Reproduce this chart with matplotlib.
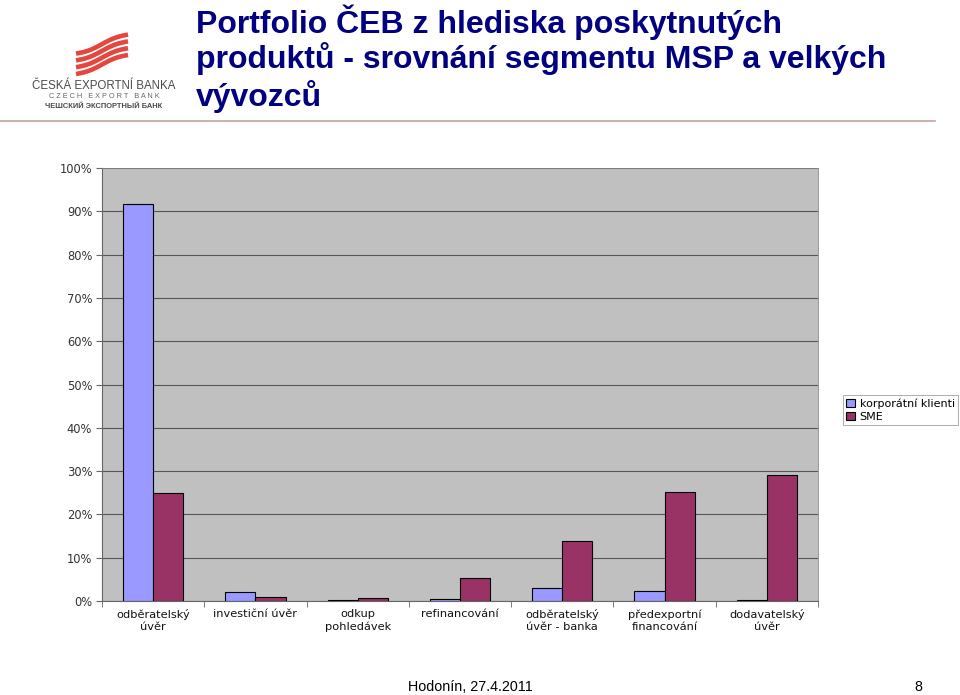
import numpy as np
import matplotlib.pyplot as plt

plt.rcParams['font.family'] = ['Liberation Sans', 'DejaVu Sans']

# data
kategorie = ['odběratelský\núvěr', 'investiční úvěr', 'odkup\npohledávek', 'refinancování',
             'odběratelský\núvěr - banka', 'předexportní\nfinancování', 'dodavatelský\núvěr']
korporatni = [91.7, 2.1, 0.3, 0.4, 3.0, 2.3, 0.2]
sme = [24.9, 1.0, 0.7, 5.3, 13.9, 25.2, 29.1]
yticks = [0, 10, 20, 30, 40, 50, 60, 70, 80, 90, 100]

fig = plt.figure(figsize=(9.6, 6.95), dpi=100)

# hlavicka
nadpis = ['Portfolio ČEB z hlediska poskytnutých',
          'produktů - srovnání segmentu MSP a velkých',
          'vývozců']
for txt, yy in zip(nadpis, [22, 59, 97]):
    fig.text(196/960, 1-yy/695, txt, fontsize=23, fontweight='bold',
             color='#000080', va='center', ha='left')
fig.add_artist(plt.Line2D([0, 935/960], [1-121/695, 1-121/695], color='#c8a0a0', lw=1.2))

# logo
lax = fig.add_axes([0, 1-125/695, 190/960, 125/695])
lax.set_xlim(0, 190)
lax.set_ylim(125, 0)
lax.axis('off')
t = np.linspace(0, 1, 60)
for k in range(4):
    xs = 76 + 52*t
    ys = 74 - 6.8*k - 19*t + 1.5*np.sin(2*np.pi*t)
    lax.plot(xs, ys, color='#e4473f', lw=3.3, solid_capstyle='butt')
lax.text(104, 86, 'ČESKÁ EXPORTNÍ BANKA', fontsize=8.3, color='#4a4a4a', ha='center', va='center')
lax.text(104, 97, 'C Z E C H   E X P O R T   B A N K', fontsize=5.3, color='#666666', ha='center', va='center')
lax.text(104, 107, 'ЧЕШСКИЙ ЭКСПОРТНЫЙ БАНК', fontsize=5.4, color='#4a4a4a', ha='center', va='center',
         fontweight='bold')

# graf
ax = fig.add_axes([102/960, 1-601/695, 716/960, 433/695])
ax.set_facecolor('#c0c0c0')
x = np.arange(len(kategorie))
w = 0.295
ax.bar(x - w/2, korporatni, w, color='#9999ff', edgecolor='black', linewidth=0.8,
       label='korporátní klienti', zorder=3)
ax.bar(x + w/2, sme, w, color='#993366', edgecolor='black', linewidth=0.8,
       label='SME', zorder=3)
ax.set_xlim(-0.5, len(kategorie) - 0.5)
ax.set_ylim(0, 100)
ax.set_yticks(yticks)
ax.set_yticklabels([str(v) + '%' for v in yticks], fontsize=8.3, color='#333333',
                   family='DejaVu Sans')
ax.yaxis.grid(True, color='#555555', lw=0.8, zorder=0)
ax.set_xticks(np.arange(len(kategorie) + 1) - 0.5, minor=True)
ax.set_xticks(x)
ax.set_xticklabels(kategorie, fontsize=8.2, color='#111111', linespacing=1.25,
                   family='DejaVu Sans')
ax.tick_params(axis='x', which='major', length=0, pad=6)
ax.tick_params(axis='x', which='minor', length=4, color='#666666')
ax.tick_params(axis='y', length=4, color='#666666', pad=3)
for s in ['top', 'right']:
    ax.spines[s].set_color('#888888')
    ax.spines[s].set_linewidth(0.6)
ax.spines['left'].set_color('#666666')
ax.spines['bottom'].set_color('#666666')

leg = ax.legend(loc='upper left', bbox_to_anchor=((843 - 102)/716, (601-395)/433),
                frameon=True, fancybox=False, borderaxespad=0,
                handlelength=0.8, handleheight=0.8, handletextpad=0.4,
                labelspacing=0.25, borderpad=0.3, prop={'family': 'DejaVu Sans', 'size': 8})
leg.get_frame().set_edgecolor('#888888')
leg.get_frame().set_linewidth(0.6)

# paticka
fig.text(408/960, 1-687/695, 'Hodonín, 27.4.2011', fontsize=10.3, ha='left', va='center')
fig.text(918/960, 1-687/695, '8', fontsize=10.3, ha='center', va='center')

fig.savefig('out.png', dpi=100)
